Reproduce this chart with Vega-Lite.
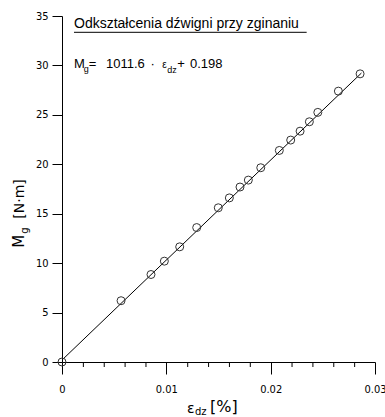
{
  "$schema": "https://vega.github.io/schema/vega-lite/v6.json",
  "width": 313,
  "height": 346,
  "autosize": "none",
  "padding": {"left": 62, "top": 16, "right": 10, "bottom": 55},
  "background": "white",
  "config": {"view": {"stroke": null}, "axis": {"labelOverlap": false}},
  "datasets": {
    "pts": [
      {"x": 0, "y": 0},
      {"x": 0.00566, "y": 6.2},
      {"x": 0.00853, "y": 8.85},
      {"x": 0.00981, "y": 10.2},
      {"x": 0.01128, "y": 11.65},
      {"x": 0.01291, "y": 13.6},
      {"x": 0.01498, "y": 15.6},
      {"x": 0.01604, "y": 16.6},
      {"x": 0.01706, "y": 17.7},
      {"x": 0.01786, "y": 18.4},
      {"x": 0.01905, "y": 19.65},
      {"x": 0.02083, "y": 21.4},
      {"x": 0.02192, "y": 22.45},
      {"x": 0.02282, "y": 23.35},
      {"x": 0.02371, "y": 24.3},
      {"x": 0.02452, "y": 25.25},
      {"x": 0.02649, "y": 27.4},
      {"x": 0.02857, "y": 29.15}
    ],
    "fit": [
      {"x": 0, "y": 0.198},
      {"x": 0.0287, "y": 29.23}
    ],
    "minor": [
      {"x": 0.002}, {"x": 0.004}, {"x": 0.006}, {"x": 0.008},
      {"x": 0.012}, {"x": 0.014}, {"x": 0.016}, {"x": 0.018},
      {"x": 0.022}, {"x": 0.024}, {"x": 0.026}, {"x": 0.028}
    ]
  },
  "layer": [
    {
      "data": {"name": "fit"},
      "mark": {"type": "line", "color": "black", "strokeWidth": 1},
      "encoding": {
        "x": {
          "field": "x", "type": "quantitative",
          "scale": {"domain": [0, 0.03], "nice": false, "zero": false},
          "axis": {
            "title": null,
            "values": [0, 0.01, 0.02, 0.03],
            "format": "~g",
            "tickSize": 12,
            "grid": false,
            "domainColor": "black",
            "tickColor": "black",
            "labelColor": "black",
            "labelFont": "DejaVu Sans Condensed",
            "labelFontSize": 11,
            "labelPadding": 9,
            "labelFlush": false,
            "labelOverlap": false
          }
        },
        "y": {
          "field": "y", "type": "quantitative",
          "scale": {"domain": [0, 35], "nice": false, "zero": false},
          "axis": {
            "title": null,
            "values": [0, 2.5, 5, 7.5, 10, 12.5, 15, 17.5, 20, 22.5, 25, 27.5, 30, 32.5, 35],
            "format": "~g",
            "labelExpr": "datum.value % 5 == 0 ? datum.label : ''",
            "tickSize": {"condition": {"test": "datum.value % 5 == 0", "value": 10}, "value": 5},
            "grid": false,
            "domainColor": "black",
            "tickColor": "black",
            "labelColor": "black",
            "labelFont": "DejaVu Sans Condensed",
            "labelFontSize": 11,
            "labelPadding": 4,
            "labelOverlap": false
          }
        }
      }
    },
    {
      "data": {"name": "minor"},
      "mark": {"type": "tick", "orient": "vertical", "color": "black", "size": 5, "thickness": 1, "yOffset": 2.5, "xOffset": 0.5, "opacity": 1},
      "encoding": {
        "x": {"field": "x", "type": "quantitative"},
        "y": {"datum": 0, "type": "quantitative"}
      }
    },
    {
      "data": {"name": "pts"},
      "mark": {"type": "point", "shape": "circle", "filled": false, "stroke": "#333333", "strokeWidth": 1, "size": 64, "opacity": 1},
      "encoding": {
        "x": {"field": "x", "type": "quantitative"},
        "y": {"field": "y", "type": "quantitative"}
      }
    },
    {
      "data": {"values": [{"x": 0.00115, "y": 33.74, "t": "Odkształcenia dźwigni przy zginaniu"}]},
      "mark": {"type": "text", "align": "left", "baseline": "alphabetic", "font": "Liberation Sans", "fontSize": 14, "color": "black"},
      "encoding": {
        "x": {"field": "x", "type": "quantitative"},
        "y": {"field": "y", "type": "quantitative"},
        "text": {"field": "t"}
      }
    },
    {
      "data": {"values": [{"x": 0.00115, "x2": 0.02345, "y": 33.35}]},
      "mark": {"type": "rule", "color": "black", "strokeWidth": 1},
      "encoding": {
        "x": {"field": "x", "type": "quantitative"},
        "x2": {"field": "x2"},
        "y": {"field": "y", "type": "quantitative"}
      }
    },
    {
      "data": {"values": [
        {"x": 0.00115, "y": 29.7, "t": "M"},
        {"x": 0.00256, "y": 29.7, "t": "="},
        {"x": 0.00422, "y": 29.7, "t": "1011.6"},
        {"x": 0.00848, "y": 29.7, "t": "·"},
        {"x": 0.01105, "y": 29.7, "t": "+"},
        {"x": 0.01227, "y": 29.7, "t": "0.198"}
      ]},
      "mark": {"type": "text", "align": "left", "baseline": "alphabetic", "font": "Liberation Sans", "fontSize": 13, "color": "black"},
      "encoding": {
        "x": {"field": "x", "type": "quantitative"},
        "y": {"field": "y", "type": "quantitative"},
        "text": {"field": "t"}
      }
    },
    {
      "data": {"values": [
        {"x": 0.00962, "y": 29.7, "t": "ε"}
      ]},
      "mark": {"type": "text", "align": "left", "baseline": "alphabetic", "font": "Liberation Sans", "fontSize": 10, "color": "black"},
      "encoding": {
        "x": {"field": "x", "type": "quantitative"},
        "y": {"field": "y", "type": "quantitative"},
        "text": {"field": "t"}
      }
    },
    {
      "data": {"values": [
        {"x": 0.00208, "y": 29.33, "t": "g"},
        {"x": 0.01009, "y": 29.26, "t": "dz"}
      ]},
      "mark": {"type": "text", "align": "left", "baseline": "alphabetic", "font": "Liberation Sans", "fontSize": 9, "color": "black"},
      "encoding": {
        "x": {"field": "x", "type": "quantitative"},
        "y": {"field": "y", "type": "quantitative"},
        "text": {"field": "t"}
      }
    },
    {
      "data": {"values": [
        {"x": 0.01199, "y": -5.16, "t": "ε"}
      ]},
      "mark": {"type": "text", "align": "left", "baseline": "alphabetic", "font": "DejaVu Sans", "fontSize": 14, "color": "black"},
      "encoding": {
        "x": {"field": "x", "type": "quantitative"},
        "y": {"field": "y", "type": "quantitative"},
        "text": {"field": "t"}
      }
    },
    {
      "data": {"values": [
        {"x": 0.01419, "y": -5.06, "t": "[%]"}
      ]},
      "mark": {"type": "text", "align": "left", "baseline": "alphabetic", "font": "DejaVu Sans", "fontSize": 16, "color": "black"},
      "encoding": {
        "x": {"field": "x", "type": "quantitative"},
        "y": {"field": "y", "type": "quantitative"},
        "text": {"field": "t"}
      }
    },
    {
      "data": {"values": [
        {"x": 0.01275, "y": -5.36, "t": "dz"}
      ]},
      "mark": {"type": "text", "align": "left", "baseline": "alphabetic", "font": "DejaVu Sans", "fontSize": 10, "color": "black"},
      "encoding": {
        "x": {"field": "x", "type": "quantitative"},
        "y": {"field": "y", "type": "quantitative"},
        "text": {"field": "t"}
      }
    },
    {
      "data": {"values": [
        {"x": -0.00364, "y": 11.56, "t": "M"}
      ]},
      "mark": {"type": "text", "align": "left", "baseline": "alphabetic", "angle": 270, "font": "DejaVu Sans", "fontSize": 15, "color": "black"},
      "encoding": {
        "x": {"field": "x", "type": "quantitative"},
        "y": {"field": "y", "type": "quantitative"},
        "text": {"field": "t"}
      }
    },
    {
      "data": {"values": [
        {"x": -0.00364, "y": 14.5, "t": "[N·m]"}
      ]},
      "mark": {"type": "text", "align": "left", "baseline": "alphabetic", "angle": 270, "font": "DejaVu Sans", "fontSize": 14, "color": "black"},
      "encoding": {
        "x": {"field": "x", "type": "quantitative"},
        "y": {"field": "y", "type": "quantitative"},
        "text": {"field": "t"}
      }
    },
    {
      "data": {"values": [
        {"x": -0.00326, "y": 12.98, "t": "g"}
      ]},
      "mark": {"type": "text", "align": "left", "baseline": "alphabetic", "angle": 270, "font": "DejaVu Sans", "fontSize": 10, "color": "black"},
      "encoding": {
        "x": {"field": "x", "type": "quantitative"},
        "y": {"field": "y", "type": "quantitative"},
        "text": {"field": "t"}
      }
    }
  ]
}
